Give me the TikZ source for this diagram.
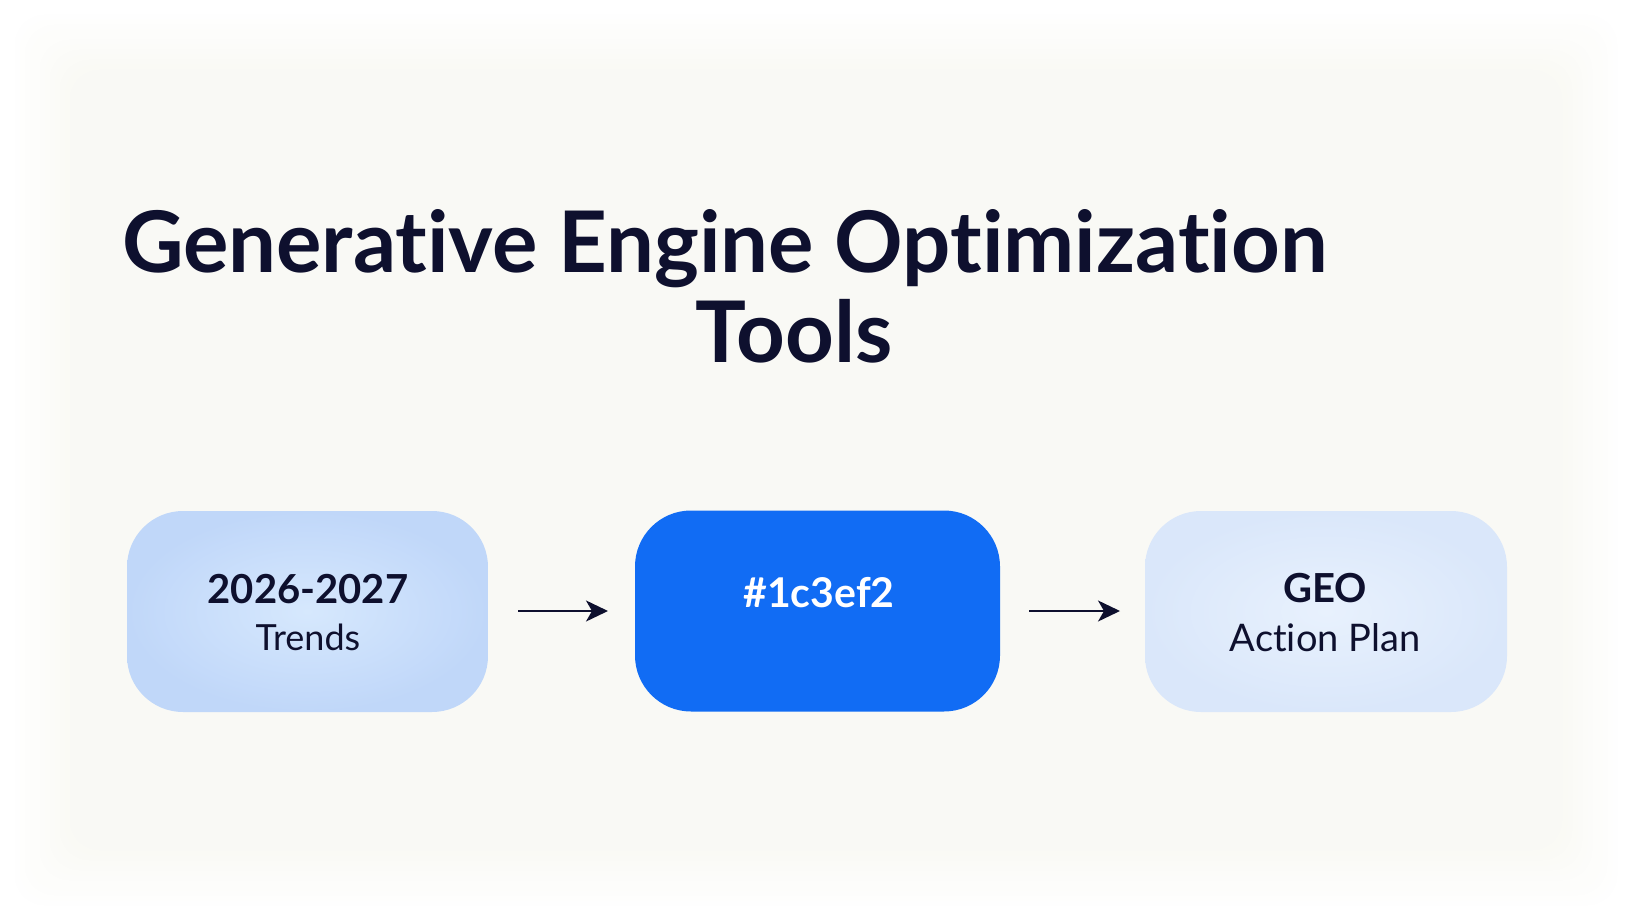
\documentclass[tikz,border=0pt]{standalone}
\usepackage{fontspec}
\setmainfont{Lato}[Ligatures=NoCommon]
\usetikzlibrary{arrows.meta}
\definecolor{ink}{RGB}{14,16,46}
\definecolor{paper}{RGB}{249,249,244}
\definecolor{boxa}{RGB}{192,215,249}
\definecolor{boxai}{RGB}{214,232,253}
\definecolor{boxb}{RGB}{17,108,244}
\definecolor{boxc}{RGB}{218,231,250}
\definecolor{boxci}{RGB}{232,241,253}
\tikzset{
  stepbox/.style={rounded corners=56pt, minimum width=#1, minimum height=201pt, inner sep=0pt, draw=none},
  title/.style={anchor=base, text=ink, font=\fontsize{85}{90}\selectfont\bfseries},
  conn/.style={draw=ink, line width=1.9pt, -{Stealth[length=22pt,width=21pt,inset=6pt]}},
  lbl/.style={anchor=base, text=ink},
}
\begin{document}
\begin{tikzpicture}[x=1pt,y=-1pt]
\useasboundingbox (0,0) rectangle (1632,920);
\fill[white] (0,0) rectangle (1632,920);
\foreach \i in {1,...,12}{
  \pgfmathsetmacro{\d}{10+5*\i}
  \pgfmathsetmacro{\p}{8*\i}
  \fill[paper!\p!white, rounded corners=30pt] (\d,\d) rectangle (1632-\d,920-\d);
}
% boxes
\node[stepbox=361pt, shading=radial, inner color=boxai, outer color=boxa] (a) at (307.5,611.5) {};
\node[stepbox=365pt, fill=boxb] (b) at (817.5,611) {};
\node[stepbox=362pt, shading=radial, inner color=boxci, outer color=boxc] (c) at (1326,611.5) {};
% title
\node[title] (t1) at (725,272) {Generative Engine Optimization};
\node[title] (t2) at (794,362) {Tools};
% labels
\node[lbl, font=\fontsize{40}{44}\selectfont\bfseries] (a1) at (308,603) {2026-2027};
\node[lbl, font=\fontsize{36}{40}\selectfont] (a2) at (308,650) {Trends};
\node[lbl, text=white, font=\fontsize{41}{44}\selectfont\bfseries] (b1) at (819,607) {\#1c3ef2};
\node[lbl, font=\fontsize{40}{44}\selectfont\bfseries] (c1) at (1325,602) {GEO};
\node[lbl, font=\fontsize{38}{42}\selectfont] (c2) at (1325,651) {Action Plan};
% connectors
\coordinate (p1) at (518,611);
\coordinate (q1) at (608,611);
\coordinate (p2) at (1029,611);
\coordinate (q2) at (1120,611);
\draw[conn] (p1) -- (q1);
\draw[conn] (p2) -- (q2);
\end{tikzpicture}
\end{document}
